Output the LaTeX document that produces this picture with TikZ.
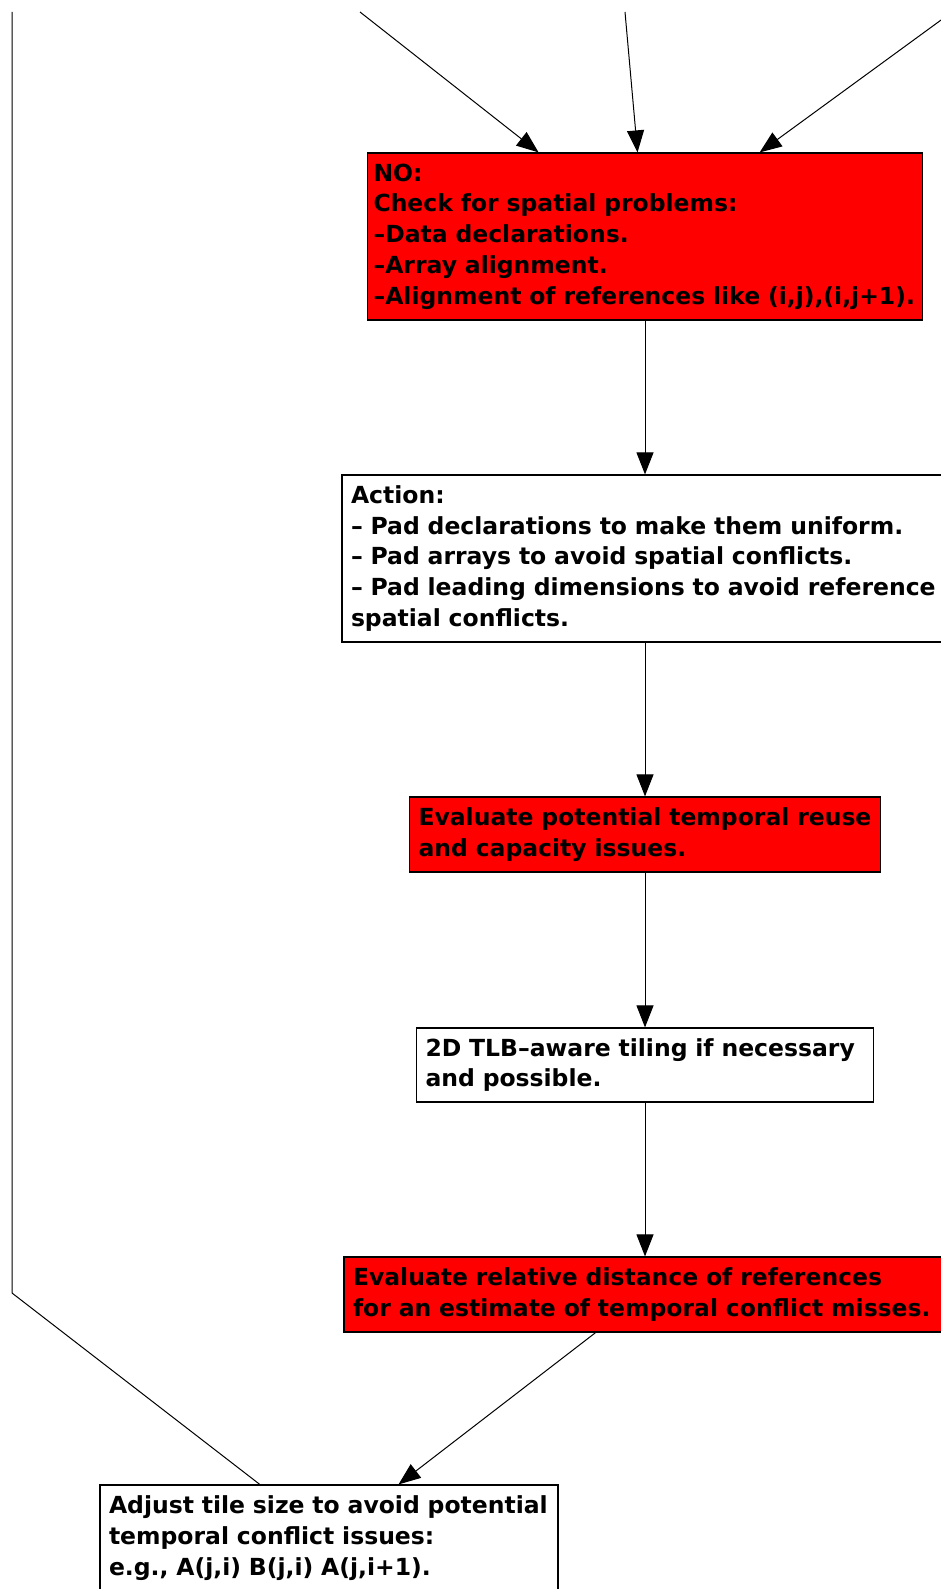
\documentclass[tikz,border=0pt]{standalone}
\usepackage{fontspec}
\setmainfont{DejaVu Sans}
\usetikzlibrary{arrows.meta}

\begin{document}
\begin{tikzpicture}[x=1pt,y=-1pt,
  box/.style={draw, line width=1.2pt, align=left, inner xsep=9pt, inner ysep=0pt, font=\fontsize{23.5}{30.7}\selectfont\bfseries},
  redbox/.style={box, fill=red},
  whitebox/.style={box, fill=white},
  flow/.style={line width=1pt, -{Triangle[length=22pt,width=17pt]}},
  plain/.style={line width=1pt}]
\useasboundingbox (0,0) rectangle (941,1589);

\node[redbox, inner xsep=6pt, text width=543pt, minimum height=167pt] (nocheck) at (645,236.5) {NO:\\Check for spatial problems:\\–Data declarations.\\–Array alignment.\\–Alignment of references like (i,j),(i,j+1).};
\node[whitebox, text width=588pt, minimum height=167pt] (action) at (645,558.5) {Action:\\– Pad declarations to make them uniform.\\– Pad arrays to avoid spatial conflicts.\\– Pad leading dimensions to avoid reference\\spatial conflicts.};
\node[redbox, text width=453pt, minimum height=75pt] (reuse) at (645,834.5) {Evaluate potential temporal reuse\\and capacity issues.};
\node[whitebox, text width=439pt, minimum height=74pt] (tlb) at (645,1065) {2D TLB–aware tiling if necessary\\and possible.};
\node[redbox, text width=584pt, minimum height=75pt] (distance) at (645,1294.5) {Evaluate relative distance of references\\for an estimate of temporal conflict misses.};
\node[whitebox, text width=440pt, minimum height=106pt] (adjust) at (329,1538) {Adjust tile size to avoid potential\\temporal conflict issues:\\e.g., A(j,i) B(j,i) A(j,i+1).};

% free ends coming from above the cut
\coordinate (inleft) at (360,12);
\coordinate (inmid) at (625,12);
\coordinate (inright) at (950,13.5);
\coordinate (backtop) at (12,12);
\coordinate (backbend) at (12,1293);

\draw[flow] (inleft) -- (nocheck);
\draw[flow] (inmid) -- (nocheck);
\draw[flow] (inright) -- (nocheck);

\draw[flow] (nocheck) -- (action);
\draw[flow] (action) -- (reuse);
\draw[flow] (reuse) -- (tlb);
\draw[flow] (tlb) -- (distance);
\draw[flow] (distance) -- (adjust);
\draw[plain] (backtop) -- (backbend) -- (adjust);
\end{tikzpicture}
\end{document}
